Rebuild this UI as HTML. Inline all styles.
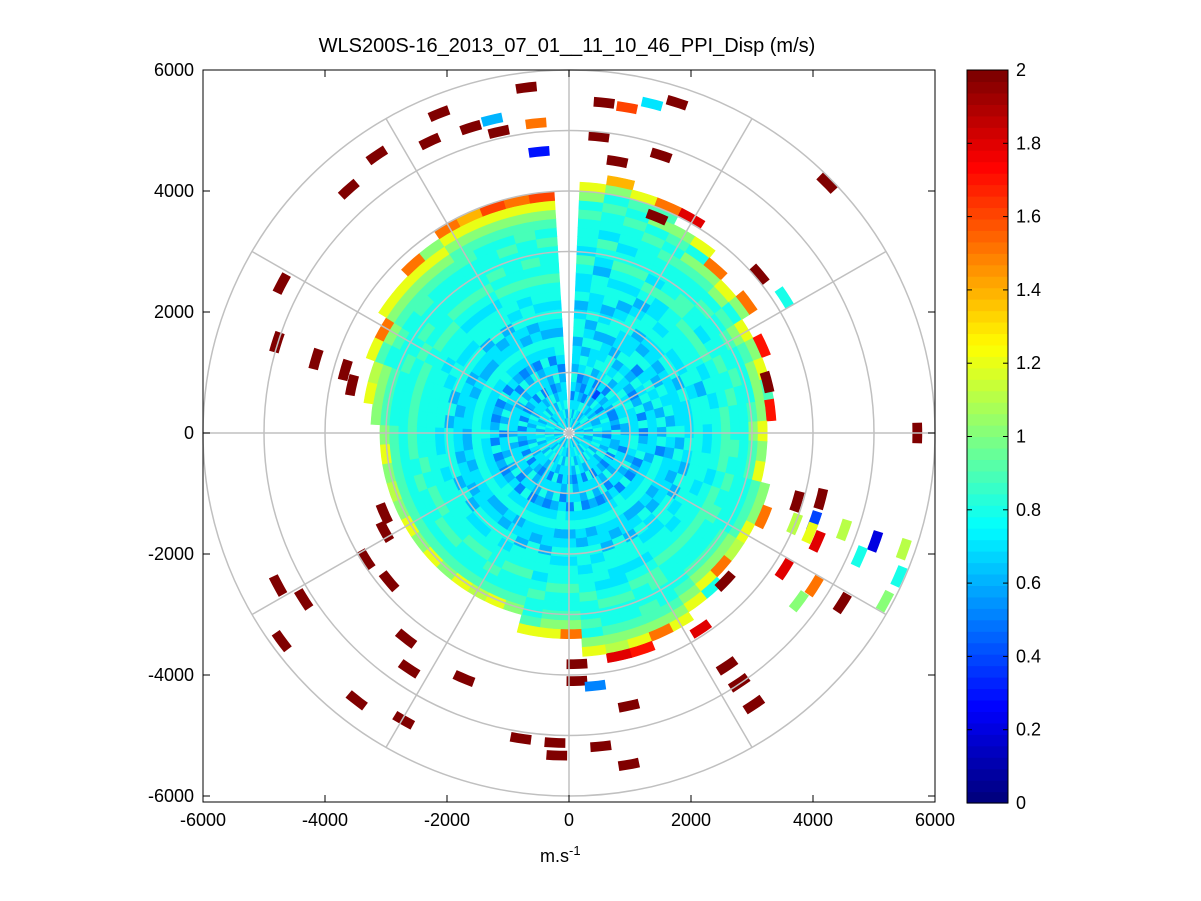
<!DOCTYPE html>
<html><head><meta charset="utf-8"><style>
body{margin:0;background:#fff;}
svg{display:block;font-family:"Liberation Sans",sans-serif;}
</style></head><body>
<svg id="chart" width="1201" height="901" xmlns="http://www.w3.org/2000/svg">
<rect x="0" y="0" width="1201" height="901" fill="#fff"/>
<text x="567" y="52" text-anchor="middle" font-size="20">WLS200S-16_2013_07_01__11_10_46_PPI_Disp (m/s)</text>
<g id="data"></g>
<g id="grid"></g>
<g id="axes"></g>
<g id="cbar"></g>
<text x="540" y="862" font-size="18">m.s<tspan dy="-7" font-size="13">-1</tspan></text>
</svg>
<script>
// ---- data ----
const azStart = 2.5;      // degrees (compass), first azimuth bin start
const azWidth = 6;        // degrees per azimuth bin
const gateStart = 100;    // m
const gateLen = 150;      // m
// each string = one azimuth bin; each char = one range gate; 'a'..'u' => 0.0..2.0 m/s, '.' = no data
const beams = [
"gihfhighhgiihgihhijhiiijikm",
"ighhgfhigihgihhiighijhiijiko",
"hihgfgihhigihgiihijihiijijm",
"ghifhhgihhgiihgihijiiijikjp",
"hgihgfhiighhiihgijhiijijk.s",
"ighgehihgihhgiihhjiiijkim",
"hhgihfgihiighihiijjiijkp",
"gihhgihhgfihhiiijiijikm",
"higfhhigihhgihiijhiijikp",
"hgihgihfhighihiijiijkm",
"ihghfhigihihgiihijiijkr",
"hhgifhhigihhihgiiijikm",
"gihhgihfhgihhiihijiikj",
"hgihfghihighhiiijiijkr",
"ihhgighfhgiihihijiikm",
"higfhhighihgiihijjijk",
"hgihghihhfgihiiijiijm",
"ighhgfhigihhgiihijiijk",
"hhigihgfhihgiihijiiijkp",
"gihhfhighihhgiiijjiijm",
"ihgihhgfhighihiijiijkl",
"hhigfghihihgiihijiijkp",
"gihhgihfhigihhiijiijkmi",
"hgihhgfhiighihiijiiijkm",
"ihghfhighihhgiihijjiijkm",
"hhigihgfhihgiiihijiijjkp",
"gihhfhighihhgiihhijiijkmr",
"ihgihhgfhighihiihijiijkls",
"hhigfghihihgiihiijiijikm",
"gihhgihfhighihiijiijkp",
"hgihhgfhiighihiijiijkm",
"ihghfhighihhgiihijiijm",
"hhigihgfhihgiiijiijk",
"gihhfhighihhgiijiijm",
"ihgihhgfhighihiijijl",
"hhigfghihihgiiijiijm",
"gihhgihfhighihijiijk",
"hgihhgfhiighihiijijm",
"ihghfhighihhgiiijijk",
"hhigihgfhihgiiijiijm",
"gihhfhighihhgiijiijk",
"ihgihhgfhighihiijijl",
"hhigfghihihgiiijiijk",
"gihhgihfhighihiijijm",
"hgihhgfhiighihiijijk",
"ihghfhighihhgiiijiijk",
"hhigihgfhihgiiiijiijkm",
"gihhfhighihhgiiijiijkl",
"ihgihhgfhighihiijijiijm",
"hhigfghihihgiihiijiijkp",
"gihhgihfhighihiijijiijkm",
"hgihhgfhiighihiijiiijjkm",
"ihghfhighihhgiihijiiijkmp",
"hhigihgfhihgiiihijiiijkmk",
"gihhfhighihhgiihijiiijjkmp",
"ihgihhgfhighihiijijiiijkmo",
"hhigfghihihgiihijiiijijkmq",
"gihhgihfhighihiijijiijjkmp",
"hgihhgfhiighihiijiiijijkmq"
];
// scattered outlier gates: x (m), y (m), value (m/s)
const outX = [-700,-2130,-1610,-3150,-3610,-2280,-1150,575,1770,490,790,1510,1440,4230,-4710,-4790,-4150,-3670,-3560,5710,-3030,-3020,-3330,-2950,-4770,-4350,-4710,-2670,-2620,-1720,-3480,-2710,-790,-230,-200,520,980,130,130,980,2590,2790,3030,4480,2560,3740,3250,3120,4130,-1260,-540,-490,950,1360,3530,4020,4070,4510,5020,5490,4760,3530,4020,3770,5410,5180,430,2160,3700,3950];
const outY = [5710,5280,5050,4590,4030,4820,4980,5460,5460,4900,4490,4590,3570,4130,2470,1500,1220,1040,790,0,-1330,-1630,-2090,-2450,-2520,-2750,-3440,-3400,-3900,-4060,-4420,-4750,-5050,-5120,-5330,-5180,-5480,-3820,-4100,-4510,-3850,-4130,-4490,-2810,-2450,-1130,840,2620,-1090,5180,5120,4650,5380,5440,2240,-1460,-1790,-1600,-1790,-1920,-2040,-2250,-2530,-2780,-2370,-2780,-4180,-3240,-1500,-1650];
const outV = [2,2,2,2,2,2,2,2,2,2,2,2,2,2,2,2,2,2,2,2,2,2,2,2,2,2,2,2,2,2,2,2,2,2,2,2,2,2,2,2,2,2,2,2,2,2,2,2,2,0.6,1.5,0.3,1.6,0.7,0.8,0.4,1.8,1.1,0.2,1.1,0.8,1.8,1.5,1.0,0.8,1.0,0.5,1.8,1.1,1.2];
const axisTicks = [-6000,-4000,-2000,0,2000,4000,6000];
const cbarTicks = [0,0.2,0.4,0.6,0.8,1,1.2,1.4,1.6,1.8,2];

// ---- geometry ----
const NS="http://www.w3.org/2000/svg";
const L=203,R=935,T=70,B=802,cx=569,cy=433;
const sx=(R-L)/12000, sy=(796-70)/12000;
const X=x=>cx+x*sx, Y=y=>cy-y*sy;
function jet(v){
  let t=Math.max(0,Math.min(1,v/2)); t=Math.min(63,Math.floor(t*64))/63;
  const f=c=>Math.round(255*Math.max(0,Math.min(1,1.5-Math.abs(4*t-c))));
  return `rgb(${f(3)},${f(2)},${f(1)})`;
}
function mk(tag,attrs,parent){const e=document.createElementNS(NS,tag);for(const k in attrs)e.setAttribute(k,attrs[k]);parent.appendChild(e);return e;}
function sector(a1,a2,r1,r2){
  const pts=[];const n=3;
  for(let i=0;i<=n;i++){const a=(a1+(a2-a1)*i/n)*Math.PI/180;pts.push([X(r2*Math.sin(a)),Y(r2*Math.cos(a))]);}
  for(let i=n;i>=0;i--){const a=(a1+(a2-a1)*i/n)*Math.PI/180;pts.push([X(r1*Math.sin(a)),Y(r1*Math.cos(a))]);}
  return pts.map(p=>p[0].toFixed(1)+","+p[1].toFixed(1)).join(" ");
}
const gData=document.getElementById('data');
beams.forEach((s,i)=>{
  const a1=azStart+i*azWidth,a2=a1+azWidth;
  for(let j=0;j<s.length;j++){
    const c=s[j]; if(c==='.')continue;
    const v=(c.charCodeAt(0)-97)/10;
    const r1=gateStart+j*gateLen, r2=r1+gateLen;
    const p=mk('polygon',{points:sector(a1,a2,r1,r2),fill:jet(v),stroke:jet(v),'stroke-width':0.6},gData);
    
    
  }
});
outX.forEach((x,i)=>{
  const r=Math.hypot(x,outY[i]); const az=Math.atan2(x,outY[i])*180/Math.PI;
  const da=340/r*180/Math.PI/2;
  const p=mk('polygon',{points:sector(az-da,az+da,r-80,r+80),fill:jet(outV[i])},gData);
  
  
});
// grid
const gGrid=document.getElementById('grid');
for(let r=1000;r<=6000;r+=1000){
  const e=mk('ellipse',{cx:cx,cy:cy,rx:r*sx,ry:r*sy,fill:'none',stroke:'#c0c0c0','stroke-width':1.5},gGrid);
  
  
}
for(let a=0;a<360;a+=30){
  const t=a*Math.PI/180;
  const e=mk('line',{x1:cx,y1:cy,x2:X(6000*Math.sin(t)),y2:Y(6000*Math.cos(t)),stroke:'#c0c0c0','stroke-width':1.5},gGrid);
  
  
}
// axes
const gAx=document.getElementById('axes');
const box=mk('rect',{x:L,y:T,width:R-L,height:B-T,fill:'none',stroke:'#000','stroke-width':1},gAx);


axisTicks.forEach(v=>{
  const x=X(v),y=Y(v);
  mk('line',{x1:x,y1:B,x2:x,y2:B-7,stroke:'#000'},gAx);
  mk('line',{x1:x,y1:T,x2:x,y2:T+7,stroke:'#000'},gAx);
  mk('line',{x1:L,y1:y,x2:L+7,y2:y,stroke:'#000'},gAx);
  mk('line',{x1:R,y1:y,x2:R-7,y2:y,stroke:'#000'},gAx);
  const tx=mk('text',{x:x,y:B+24,'text-anchor':'middle','font-size':18},gAx);tx.textContent=v;
  
  
  const ty=mk('text',{x:L-9,y:y+6,'text-anchor':'end','font-size':18},gAx);ty.textContent=v;
  
  
});
// colorbar
const gC=document.getElementById('cbar');
const cL=967,cR=1008,cT=70,cB=803;
for(let k=0;k<64;k++){
  const y1=cB-(k+1)*(cB-cT)/64;
  const r=mk('rect',{x:cL,y:y1,width:cR-cL,height:(cB-cT)/64+0.6,fill:jet((k+0.5)/64*2)},gC);
  
  
}
mk('rect',{x:cL,y:cT,width:cR-cL,height:cB-cT,fill:'none',stroke:'#000'},gC);
cbarTicks.forEach(v=>{
  const y=cB-v/2*(cB-cT);
  mk('line',{x1:cR,y1:y,x2:cR-5,y2:y,stroke:'#000'},gC);
  mk('line',{x1:cL,y1:y,x2:cL+5,y2:y,stroke:'#000'},gC);
  const t=mk('text',{x:cR+8,y:y+6,'font-size':18},gC);t.textContent=v;
  
  
});
</script>
</body></html>
